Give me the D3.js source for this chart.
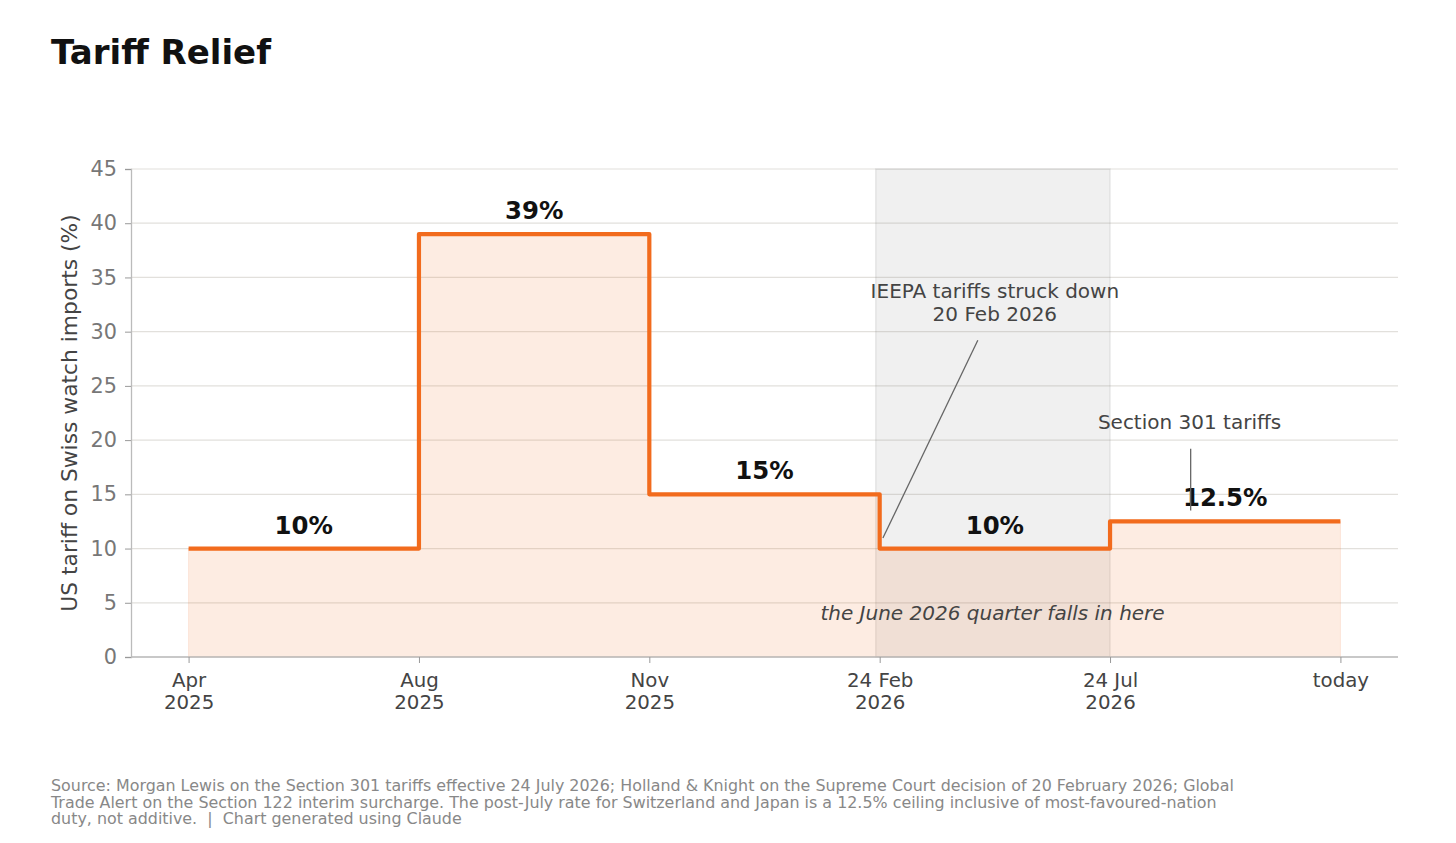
<!DOCTYPE html>
<html>
<head>
<meta charset="utf-8">
<script src="https://cdn.jsdelivr.net/npm/d3@7"></script>
<style>
  body { margin: 0; background: #fff; font-family: "DejaVu Sans", sans-serif; }
</style>
</head>
<body>
<div id="chart"></div>
<script>
// Period boundaries (index positions on the x axis) and their tick labels
const tickLabels = [["Apr", "2025"], ["Aug", "2025"], ["Nov", "2025"], ["24 Feb", "2026"], ["24 Jul", "2026"], ["today"]];
// Tariff rate in force for each period (between consecutive boundaries)
const rates = [10, 39, 15, 10, 12.5];
const rateLabels = ["10%", "39%", "15%", "10%", "12.5%"];
const yTicks = [0, 5, 10, 15, 20, 25, 30, 35, 40, 45];
// Grey band: 20 Feb 2026 ruling until 24 Jul 2026
const band = [2.983, 4];

const footer = [
  "Source: Morgan Lewis on the Section 301 tariffs effective 24 July 2026; Holland & Knight on the Supreme Court decision of 20 February 2026; Global",
  "Trade Alert on the Section 122 interim surcharge. The post-July rate for Switzerland and Japan is a 12.5% ceiling inclusive of most-favoured-nation",
  "duty, not additive.  |  Chart generated using Claude"
];

const W = 1456, H = 843;
const margin = {top: 169, right: 58, bottom: 186, left: 131};
const width = W - margin.left - margin.right;
const height = H - margin.top - margin.bottom;
const orange = "#f26b1d";

const svg = d3.select("#chart").append("svg")
  .attr("width", W).attr("height", H);

// Title
svg.append("text")
  .attr("x", 51).attr("y", 64)
  .style("font", "bold 34px 'DejaVu Sans'")
  .attr("fill", "#111")
  .text("Tariff Relief");

const chart = svg.append("g")
  .attr("transform", `translate(${margin.left},${margin.top})`);

const x = d3.scaleLinear().domain([-0.25, 5.25]).range([0, width]);
const y = d3.scaleLinear().domain([0, 45]).range([height, 0]);

// Grid lines
chart.append("g").selectAll("line").data(yTicks).join("line")
  .attr("x1", 0).attr("x2", width)
  .attr("y1", d => y(d)).attr("y2", d => y(d))
  .attr("stroke", "#e2e0dc").attr("stroke-width", 1.2);

// Grey period band
chart.append("rect")
  .attr("x", x(band[0])).attr("width", x(band[1]) - x(band[0]))
  .attr("y", y(45)).attr("height", y(0) - y(45))
  .attr("fill", "rgba(128,128,128,0.12)")
  .attr("stroke", "rgba(128,128,128,0.15)").attr("stroke-width", 1.5);

// Step data: each rate starts at its boundary, last value repeated at the end
const steps = rates.map((r, i) => ({i, v: r}));
steps.push({i: rates.length, v: rates[rates.length - 1]});

const area = d3.area().curve(d3.curveStepAfter)
  .x(d => x(d.i)).y0(y(0)).y1(d => y(d.v));
const line = d3.line().curve(d3.curveStepAfter)
  .x(d => x(d.i)).y(d => y(d.v));

chart.append("path").datum(steps)
  .attr("d", area)
  .attr("fill", orange).attr("fill-opacity", 0.13)
  .attr("stroke", orange).attr("stroke-opacity", 0.12);

chart.append("path").datum(steps)
  .attr("d", line)
  .attr("fill", "none").attr("stroke", orange)
  .attr("stroke-width", 4.2).attr("stroke-linejoin", "round");

// Rate labels
chart.append("g").selectAll("text").data(rates).join("text")
  .attr("x", (d, i) => x(i + 0.5))
  .attr("y", d => y(d) - 15)
  .attr("text-anchor", "middle")
  .style("font", "bold 24.4px 'DejaVu Sans'")
  .attr("fill", "#111")
  .text((d, i) => rateLabels[i]);

// Annotations
const note = chart.append("g").style("font", "20px 'DejaVu Sans'").attr("fill", "#444");
note.append("text").attr("x", x(3.5)).attr("y", y(33.1)).attr("text-anchor", "middle")
  .text("IEEPA tariffs struck down");
note.append("text").attr("x", x(3.5)).attr("y", y(33.1) + 23).attr("text-anchor", "middle")
  .text("20 Feb 2026");
chart.append("line")
  .attr("x1", x(3.426)).attr("y1", y(29.2))
  .attr("x2", x(3.014)).attr("y2", y(10.97))
  .attr("stroke", "#666").attr("stroke-width", 1.3);

note.append("text").attr("x", x(4.345)).attr("y", y(21)).attr("text-anchor", "middle")
  .text("Section 301 tariffs");
chart.append("line")
  .attr("x1", x(4.35)).attr("y1", y(19.2))
  .attr("x2", x(4.35)).attr("y2", y(13.5))
  .attr("stroke", "#666").attr("stroke-width", 1.3);

note.append("text").attr("x", x(3.49)).attr("y", y(3.4)).attr("text-anchor", "middle")
  .style("font-style", "italic")
  .text("the June 2026 quarter falls in here");

// Y axis
const yAxis = chart.append("g")
  .call(d3.axisLeft(y).tickValues(yTicks).tickSize(6).tickPadding(8));
yAxis.select(".domain").attr("stroke", "#bbb").attr("stroke-width", 1.3);
yAxis.selectAll(".tick line").attr("stroke", "#999");
yAxis.selectAll(".tick text").style("font", "20.8px 'DejaVu Sans'").attr("fill", "#777");

// X axis
const xAxis = chart.append("g")
  .attr("transform", `translate(0,${height})`)
  .call(d3.axisBottom(x).tickValues(d3.range(tickLabels.length)).tickSize(6).tickFormat(""));
xAxis.select(".domain").attr("d", `M0,0H${width}`).attr("stroke", "#bbb").attr("stroke-width", 1.3);
xAxis.selectAll(".tick line").attr("stroke", "#999");
xAxis.selectAll(".tick").append("text")
  .attr("text-anchor", "middle").attr("fill", "#444")
  .style("font", "19.8px 'DejaVu Sans'")
  .selectAll("tspan").data((d, i) => tickLabels[i]).join("tspan")
  .attr("x", 0).attr("y", (d, j) => 30 + j * 22)
  .text(d => d);

// Y axis label
svg.append("text")
  .attr("transform", `translate(77,${margin.top + height / 2}) rotate(-90)`)
  .attr("text-anchor", "middle")
  .style("font", "21.8px 'DejaVu Sans'")
  .attr("fill", "#444")
  .text("US tariff on Swiss watch imports (%)");

// Footer
svg.append("g").selectAll("text").data(footer).join("text")
  .attr("x", 51).attr("y", (d, i) => 791 + i * 16.5)
  .style("font", "15.9px 'DejaVu Sans'")
  .style("white-space", "pre")
  .attr("fill", "#888")
  .text(d => d);
</script>
</body>
</html>
